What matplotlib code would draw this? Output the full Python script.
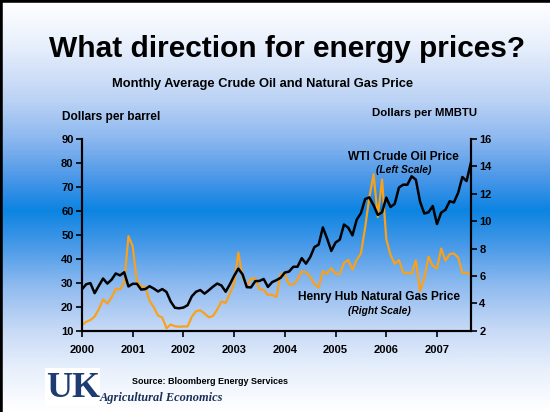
import numpy as np
import matplotlib
matplotlib.use("Agg")
import matplotlib.pyplot as plt
from matplotlib.colors import LinearSegmentedColormap

plt.rcParams['font.family'] = ['Liberation Sans', 'DejaVu Sans']

# monthly averages, Jan 2000 - Sep 2007
wti = [27.3, 29.4, 29.9, 25.7, 28.8, 31.8, 29.7, 31.3, 33.9, 33.1, 34.4, 28.5,
       29.6, 29.6, 27.2, 27.4, 28.6, 27.6, 26.4, 27.4, 26.2, 22.2, 19.6, 19.4,
       19.7, 20.7, 24.4, 26.3, 27.0, 25.5, 26.9, 28.4, 29.7, 28.9, 26.3, 29.4,
       32.9, 35.9, 33.5, 28.2, 28.1, 30.7, 30.8, 31.6, 28.3, 30.3, 31.1, 32.1,
       34.3, 34.7, 36.7, 36.7, 40.3, 38.0, 40.7, 44.9, 45.9, 53.1, 48.5, 43.3,
       46.8, 48.0, 54.3, 53.0, 49.8, 56.3, 59.0, 64.9, 65.6, 62.3, 58.3, 59.4,
       65.5, 61.6, 62.9, 69.7, 70.9, 70.9, 74.4, 73.0, 63.8, 58.9, 59.4, 62.0,
       54.5, 59.3, 60.4, 64.0, 63.5, 67.5, 74.1, 72.4, 79.9]
henry_hub = [2.42, 2.66, 2.79, 3.04, 3.59, 4.29, 3.99, 4.43, 5.06, 5.02, 5.52, 8.90,
             8.17, 5.61, 5.23, 5.19, 4.19, 3.72, 3.11, 2.97, 2.19, 2.46, 2.34, 2.30,
             2.32, 2.32, 3.03, 3.43, 3.50, 3.26, 2.99, 3.09, 3.55, 4.13, 4.04, 4.74,
             5.43, 7.71, 5.93, 5.26, 5.81, 5.82, 5.03, 4.99, 4.62, 4.63, 4.47, 6.13,
             6.14, 5.37, 5.39, 5.71, 6.33, 6.27, 5.93, 5.41, 5.15, 6.35, 6.17, 6.58,
             6.15, 6.14, 6.96, 7.16, 6.47, 7.18, 7.63, 9.53, 11.75, 13.42, 10.30, 13.05,
             8.69, 7.54, 6.89, 7.16, 6.25, 6.21, 6.17, 7.14, 4.90, 5.85, 7.41, 6.73,
             6.55, 8.00, 7.11, 7.60, 7.64, 7.35, 6.22, 6.24, 6.07]
years = ['2000', '2001', '2002', '2003', '2004', '2005', '2006', '2007']

months = np.arange(len(wti))

fig = plt.figure(figsize=(5.5, 4.12), dpi=100)

# slide background gradient
bg = fig.add_axes([0, 0, 1, 1], zorder=-10)
stops = [(0.0, '#ffffff'), (0.10, '#eaf1fc'), (0.24, '#bcd3f5'), (0.34, '#8ab6ef'),
         (0.43, '#4c98e8'), (0.51, '#0c84e2'), (0.60, '#4a9ae8'), (0.70, '#92bcf0'),
         (0.80, '#c6d9f6'), (0.90, '#e8f0fc'), (1.0, '#ffffff')]
cmap = LinearSegmentedColormap.from_list('slide', stops)
bg.imshow(np.linspace(0, 1, 412).reshape(-1, 1), aspect='auto', cmap=cmap,
          extent=[0, 1, 0, 1])
bg.plot([0, 0], [0, 1], color='black', lw=4, transform=bg.transAxes, clip_on=False)
bg.plot([0, 0.997], [1, 1], color='black', lw=4, transform=bg.transAxes, clip_on=False)
bg.set_xlim(0, 1)
bg.set_ylim(0, 1)
bg.axis('off')

ax = fig.add_axes([0.149, 0.197, 0.707, 0.466])
ax2 = ax.twinx()

ax.plot(months, wti, color='black', lw=1.8, zorder=3)
ax2.plot(months, henry_hub, color='#f9a11b', lw=1.6, zorder=2)
ax.set_zorder(ax2.get_zorder() + 1)
ax.patch.set_visible(False)
ax2.patch.set_visible(False)

ax.set_xlim(0, len(wti) - 1)
ax.set_ylim(10, 90)
ax.set_yticks(range(10, 91, 10))
ax2.set_ylim(2, 16)
ax2.set_yticks(range(2, 17, 2))
ax.set_xticks(np.arange(len(years)) * 12)
ax.set_xticklabels(years)

for a in (ax, ax2):
    a.spines['top'].set_visible(False)
    for s in ('left', 'right', 'bottom'):
        a.spines[s].set_linewidth(1.5)
    a.tick_params(width=1.2, length=4, labelsize=8, pad=2)
    for lab in a.get_xticklabels() + a.get_yticklabels():
        lab.set_fontweight('bold')
ax.tick_params(axis='x', pad=6)

fig.text(0.522, 0.882, 'What direction for energy prices?', ha='center', va='center',
         fontsize=21.5, fontweight='bold')
fig.text(0.477, 0.797, 'Monthly Average Crude Oil and Natural Gas Price', ha='center',
         va='center', fontsize=9.3, fontweight='bold')
fig.text(0.202, 0.716, 'Dollars per barrel', ha='center', va='center', fontsize=8.6,
         fontweight='bold')
fig.text(0.772, 0.725, 'Dollars per MMBTU', ha='center', va='center', fontsize=8.2,
         fontweight='bold')

ax.text(0.827, 0.908, 'WTI Crude Oil Price', transform=ax.transAxes, ha='center',
        va='center', fontsize=8.6, fontweight='bold')
ax.text(0.827, 0.836, '(Left Scale)', transform=ax.transAxes, ha='center', va='center',
        fontsize=7.4, fontweight='bold', style='italic')
ax.text(0.764, 0.177, 'Henry Hub Natural Gas Price', transform=ax.transAxes, ha='center',
        va='center', fontsize=8.6, fontweight='bold')
ax.text(0.764, 0.104, '(Right Scale)', transform=ax.transAxes, ha='center', va='center',
        fontsize=7.4, fontweight='bold', style='italic')

fig.text(0.382, 0.075, 'Source: Bloomberg Energy Services', ha='center', va='center',
         fontsize=6.5, fontweight='bold')

# UK Agricultural Economics logo (text)
fig.patches.append(plt.Rectangle((0.082, 0.016), 0.1, 0.092, transform=fig.transFigure,
                                 facecolor='white', edgecolor='none', zorder=1))
fig.text(0.083, 0.056, 'UK', ha='left', va='center', fontsize=26, fontweight='bold',
         family='Liberation Serif', color='#1e3c72', zorder=2)
fig.text(0.182, 0.034, 'Agricultural Economics', ha='left', va='center', fontsize=8.9,
         fontweight='bold', style='italic', family='Liberation Serif', color='#1a2f5a',
         zorder=2)

fig.savefig('out.png', dpi=100)
